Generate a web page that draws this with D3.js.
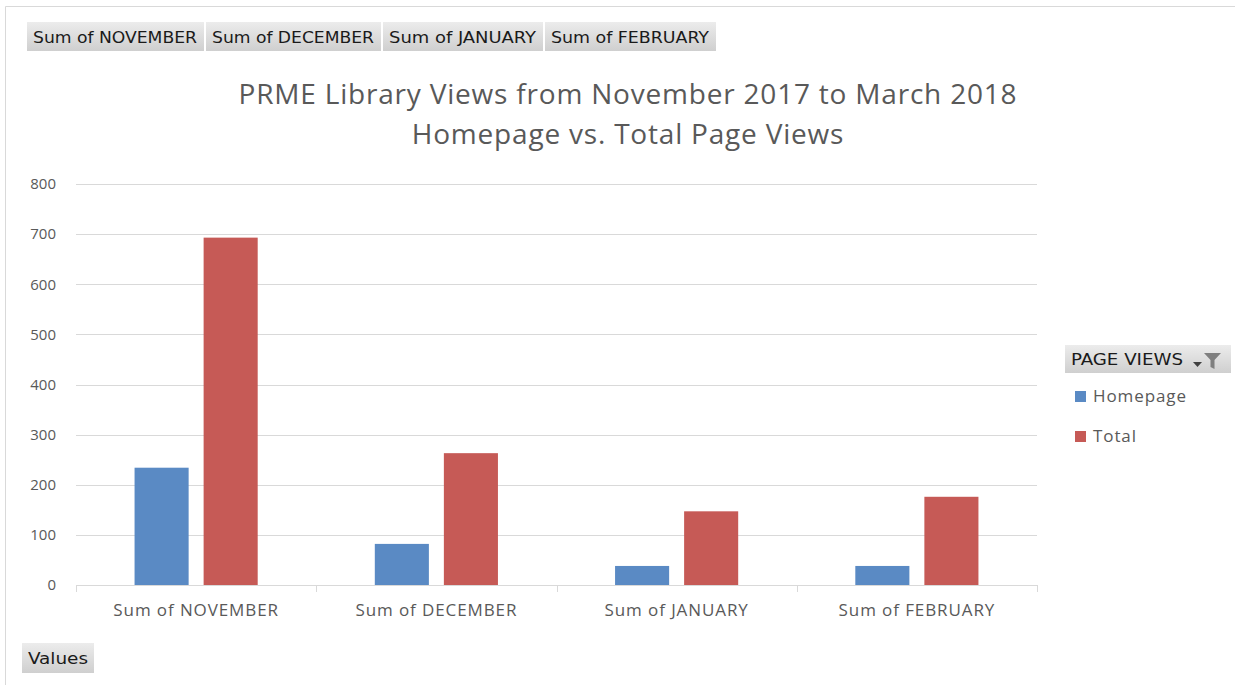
<!DOCTYPE html>
<html>
<head>
<meta charset="utf-8">
<script src="https://cdn.jsdelivr.net/npm/d3@7"></script>
<style>
  body { margin: 0; background: #fff; }
  svg text { font-family: "Open Sans", "Liberation Sans", sans-serif; }
</style>
</head>
<body>
<svg width="1235" height="685"></svg>
<script>
// data
const categories = ["Sum of NOVEMBER", "Sum of DECEMBER", "Sum of JANUARY", "Sum of FEBRUARY"];
const seriesNames = ["Homepage", "Total"];
const homepageValues = [234, 82, 38, 38];
const totalValues = [693, 263, 147, 176];
const yTicks = [0, 100, 200, 300, 400, 500, 600, 700, 800];
const colors = ["#5A8AC4", "#C65A56"];

const data = categories.map((c, i) => ({ cat: c, values: [homepageValues[i], totalValues[i]] }));

const svg = d3.select("svg");

// outer frame (top + left edge)
svg.append("path")
    .attr("d", "M5.5,685 V6.5 H1235")
    .attr("fill", "none")
    .attr("stroke", "#d9d9d9");

const plot = { left: 76, right: 1037, top: 184, bottom: 585 };

const x0 = d3.scaleBand()
    .domain(categories)
    .range([plot.left, plot.right]);

const x1 = d3.scaleBand()
    .domain(seriesNames)
    .range([0, x0.bandwidth()])
    .paddingInner(0.217)
    .paddingOuter(0.848);

const y = d3.scaleLinear()
    .domain([0, 800])
    .range([plot.bottom, plot.top]);

// gridlines
svg.append("g")
    .selectAll("line")
    .data(yTicks.slice(1))
    .enter().append("line")
    .attr("x1", plot.left)
    .attr("x2", plot.right)
    .attr("y1", d => Math.round(y(d)) + 0.5)
    .attr("y2", d => Math.round(y(d)) + 0.5)
    .attr("stroke", "#d9d9d9");

// y axis labels
const yAxis = svg.append("g")
    .attr("transform", `translate(${plot.left},0)`)
    .call(d3.axisLeft(y).tickValues(yTicks).tickSize(0).tickPadding(20));
yAxis.select(".domain").remove();
yAxis.selectAll("text")
    .style("font-size", "15px")
    .attr("fill", "#595959");

// bars
const groups = svg.append("g")
    .selectAll("g")
    .data(data)
    .enter().append("g")
    .attr("transform", d => `translate(${x0(d.cat)},0)`);

groups.selectAll("rect")
    .data(d => d.values.map((v, i) => ({ key: seriesNames[i], value: v })))
    .enter().append("rect")
    .attr("x", d => x1(d.key))
    .attr("width", x1.bandwidth())
    .attr("y", d => y(d.value))
    .attr("height", d => y(0) - y(d.value))
    .attr("fill", (d, i) => colors[i]);

// x axis
const xAxis = svg.append("g")
    .attr("transform", `translate(0,${Math.round(y(0)) + 0.5})`)
    .call(d3.axisBottom(x0).tickSize(0).tickPadding(18));
xAxis.select(".domain").attr("stroke", "#d9d9d9").attr("d", `M${plot.left},0H${plot.right}`);
xAxis.selectAll("text")
    .style("font-size", "17px")
    .style("letter-spacing", "0.9px")
    .attr("fill", "#595959");

// category separator ticks
svg.append("g")
    .selectAll("line")
    .data(categories.map(c => x0(c)).concat([plot.right]))
    .enter().append("line")
    .attr("x1", d => Math.round(d) + 0.5)
    .attr("x2", d => Math.round(d) + 0.5)
    .attr("y1", Math.round(y(0)))
    .attr("y2", Math.round(y(0)) + 7)
    .attr("stroke", "#d9d9d9");

// title
const title = svg.append("text")
    .attr("x", 628)
    .attr("text-anchor", "middle")
    .attr("fill", "#595959")
    .style("font-size", "28px")
    .style("letter-spacing", "0.8px");
title.append("tspan").attr("x", 628).attr("y", 104).text("PRME Library Views from November 2017 to March 2018");
title.append("tspan").attr("x", 628).attr("y", 144).text("Homepage vs. Total Page Views");

// pivot field buttons
const btnGrad = svg.append("defs").append("linearGradient")
    .attr("id", "btn").attr("x1", 0).attr("y1", 0).attr("x2", 0).attr("y2", 1);
btnGrad.append("stop").attr("offset", "0%").attr("stop-color", "#ececec");
btnGrad.append("stop").attr("offset", "100%").attr("stop-color", "#cfcfcf");

function button(x, yy, w, h, label, textW) {
    svg.append("rect")
        .attr("x", x).attr("y", yy).attr("width", w).attr("height", h)
        .attr("fill", "url(#btn)");
    svg.append("text")
        .attr("x", x + 6)
        .attr("y", yy + h / 2 + 6)
        .attr("fill", "#1a1a1a")
        .attr("textLength", textW)
        .attr("lengthAdjust", "spacingAndGlyphs")
        .style("font-family", "'DejaVu Sans Condensed', 'DejaVu Sans', sans-serif")
        .style("font-size", "16px")
        .text(label);
}

const buttonX = [27, 206, 383, 545];
const buttonW = [177, 175, 160, 171];
categories.forEach((c, i) => button(buttonX[i], 22, buttonW[i], 29, c, buttonW[i] - 13));
button(22, 643, 72, 30, "Values", 60);

// legend
const legend = svg.append("g").attr("transform", "translate(1065,345)");
legend.append("rect")
    .attr("width", 166).attr("height", 28)
    .attr("fill", "url(#btn)");
legend.append("text")
    .attr("x", 6).attr("y", 20)
    .attr("fill", "#1a1a1a")
    .attr("textLength", 112)
    .attr("lengthAdjust", "spacingAndGlyphs")
    .style("font-family", "'DejaVu Sans Condensed', 'DejaVu Sans', sans-serif")
    .style("font-size", "16px")
    .text("PAGE VIEWS");
// filter dropdown icon
legend.append("path")
    .attr("d", "M128,17 h9 l-4.5,5 z")
    .attr("fill", "#404040");
legend.append("path")
    .attr("d", "M139,8 h17 l-6.5,7 v9 l-4,-2 v-7 z")
    .attr("fill", "#7f7f7f");

legend.selectAll(".sw")
    .data(seriesNames)
    .enter().append("rect")
    .attr("x", 10)
    .attr("y", (d, i) => 46 + i * 40)
    .attr("width", 11).attr("height", 11)
    .attr("fill", (d, i) => colors[i]);

legend.selectAll(".lt")
    .data(seriesNames)
    .enter().append("text")
    .attr("x", 28)
    .attr("y", (d, i) => 57 + i * 40)
    .attr("fill", "#595959")
    .style("font-size", "17px")
    .style("letter-spacing", "0.9px")
    .text(d => d);
</script>
</body>
</html>
